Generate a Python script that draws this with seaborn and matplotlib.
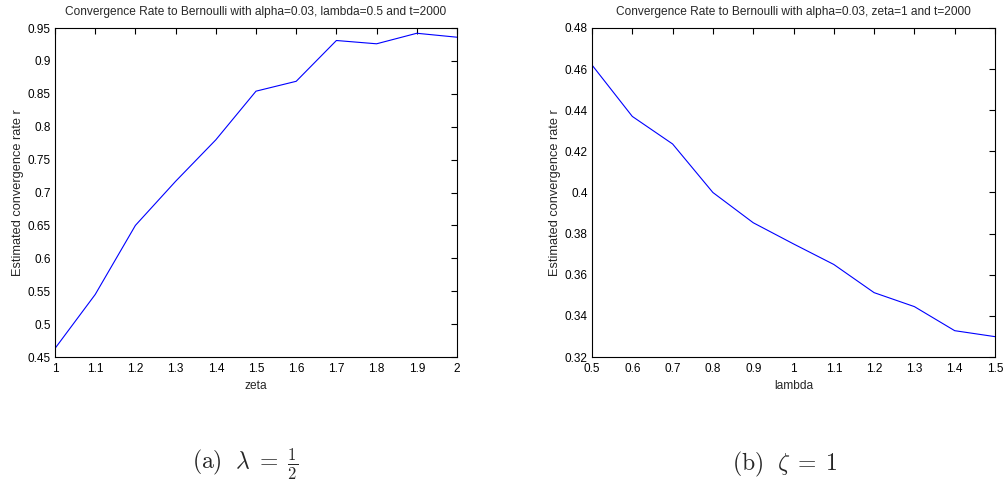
import numpy as np
import pandas as pd
import matplotlib
matplotlib.use("Agg")
import matplotlib.pyplot as plt
import seaborn as sns

zeta = [1.0, 1.1, 1.2, 1.3, 1.4, 1.5, 1.6, 1.7, 1.8, 1.9, 2.0]
rate_zeta = [0.463, 0.545, 0.650, 0.717, 0.780, 0.854, 0.869, 0.931, 0.926, 0.942, 0.936]
lam = [0.5, 0.6, 0.7, 0.8, 0.9, 1.0, 1.1, 1.2, 1.3, 1.4, 1.5]
rate_lam = [0.462, 0.437, 0.4236, 0.400, 0.3853, 0.375, 0.365, 0.3513, 0.3445, 0.3328, 0.3299]

titles = ["Convergence Rate to Bernoulli with alpha=0.03, lambda=0.5 and t=2000",
          "Convergence Rate to Bernoulli with alpha=0.03, zeta=1 and t=2000"]
xlabels = ["zeta", "lambda"]
ylabel = "Estimated convergence rate r"
captions = [r"$\mathrm{(a)}\ \ \lambda\;=\;\frac{1}{2}$", r"$\mathrm{(b)}\ \ \zeta\;=\;1$"]
xticks = [[1, 1.1, 1.2, 1.3, 1.4, 1.5, 1.6, 1.7, 1.8, 1.9, 2],
          [0.5, 0.6, 0.7, 0.8, 0.9, 1, 1.1, 1.2, 1.3, 1.4, 1.5]]
yticks = [[0.45, 0.5, 0.55, 0.6, 0.65, 0.7, 0.75, 0.8, 0.85, 0.9, 0.95],
          [0.32, 0.34, 0.36, 0.38, 0.4, 0.42, 0.44, 0.46, 0.48]]

sns.set_style("white")
plt.rcParams['font.family'] = ['Liberation Sans', 'DejaVu Sans']
plt.rcParams['mathtext.fontset'] = 'cm'

fig = plt.figure(figsize=(10.06, 4.92), dpi=100)
W, H = 1006, 492
ax1 = fig.add_axes([55 / W, 1 - 357 / H, (457 - 55) / W, (357 - 28) / H])
ax2 = fig.add_axes([592 / W, 1 - 357 / H, (995 - 592) / W, (357 - 28) / H])

def fmt(v):
    s = ("%.2f" % v).rstrip("0").rstrip(".")
    return s

datasets = [(zeta, rate_zeta), (lam, rate_lam)]
for i, ax in enumerate([ax1, ax2]):
    x, y = datasets[i]
    df = pd.DataFrame({"x": x, "y": y})
    sns.lineplot(data=df, x="x", y="y", ax=ax, color="#0000ff", linewidth=0.8)
    ax.set_xlim(xticks[i][0], xticks[i][-1])
    ax.set_ylim(yticks[i][0], yticks[i][-1])
    ax.set_xticks(xticks[i])
    ax.set_xticklabels([fmt(v) for v in xticks[i]])
    ax.set_yticks(yticks[i])
    ax.set_yticklabels([fmt(v) for v in yticks[i]])
    ax.tick_params(direction="in", length=4, width=0.8, top=True, right=True,
                   labelsize=8.5, colors="black")
    ax.tick_params(axis="x", pad=4)
    ax.tick_params(axis="y", pad=3)
    for sp in ax.spines.values():
        sp.set_visible(True)
        sp.set_color("black")
        sp.set_linewidth(0.8)
    ax.set_title(titles[i], fontsize=8.6, pad=9)
    ax.set_xlabel(xlabels[i], fontsize=8.6, labelpad=4)
    ax.set_ylabel(ylabel, fontsize=9.2, labelpad=3)

fig.text(192 / W, 1 - 464 / H, captions[0], fontsize=17, ha="left", va="center")
fig.text(732 / W, 1 - 464 / H, captions[1], fontsize=17, ha="left", va="center")

fig.savefig("out.png", dpi=100, facecolor="white")
